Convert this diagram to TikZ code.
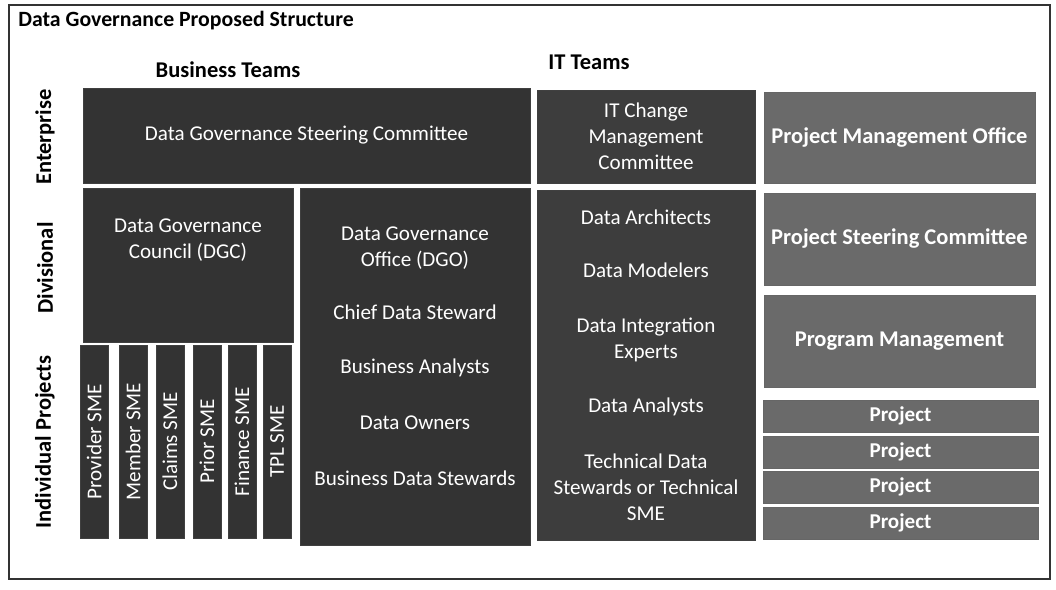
\documentclass[tikz,border=0pt]{standalone}
\usepackage{fontspec}
\setmainfont{Carlito}
\usetikzlibrary{positioning,fit}
\definecolor{bizgray}{HTML}{333333}
\definecolor{itgray}{HTML}{3D3D3D}
\definecolor{pmgray}{HTML}{6A6A6A}
\tikzset{
	bizbox/.style={fill=bizgray, draw=black!75, line width=0.4pt, inner sep=0pt},
	itbox/.style={bizbox, fill=itgray},
	pmbox/.style={bizbox, fill=pmgray, draw=black!60},
	boxtext/.style={text=white, align=center, inner sep=0pt, font=\fontsize{15}{18.5}\selectfont},
	pmtext/.style={boxtext, font=\bfseries\fontsize{16}{18}\selectfont},
	projtext/.style={boxtext, font=\bfseries\fontsize{15}{16}\selectfont},
	heading/.style={font=\bfseries\fontsize{16}{18}\selectfont, inner sep=0pt},
	levellabel/.style={heading, rotate=90}
}

\begin{document}
\begin{tikzpicture}[x=0.025cm, y=-0.025cm]
	\useasboundingbox (0,0) rectangle (1056,590);
	\draw[black!80, line width=0.8pt] (9,5) rectangle (1050,579);

	% titles
	\node[heading, anchor=west, font=\bfseries\fontsize{15.5}{18}\selectfont] (title) at (18,21) {Data Governance Proposed Structure};
	\node[heading] (bizteams) at (228,70) {Business Teams};
	\node[heading] (itteams) at (589,62) {IT Teams};

	% levels
	\node[levellabel] (enterprise) at (45,137) {Enterprise};
	\node[levellabel] (divisional) at (45,268) {Divisional};
	\node[levellabel] (projects) at (45,442) {Individual Projects};

	% business teams
	\node[bizbox, fit={(83,88) (530,183)}] (dgsc) {};
	\node[boxtext] at (dgsc.center) {Data Governance Steering Committee};
	\node[bizbox, fit={(83,188) (293,342)}] (dgc) {};
	\node[boxtext] (dgcname) at (188,240) {Data Governance\\Council (DGC)};
	\node[bizbox, fit={(300,188) (530,545)}] (dgo) {};
	\node[boxtext] (dgoname) at (415,248) {Data Governance\\Office (DGO)};
	\node[boxtext] (cds) at (415,312) {Chief Data Steward};
	\node[boxtext] (ba) at (415,368) {Business Analysts};
	\node[boxtext] (owners) at (415,423) {Data Owners};
	\node[boxtext] (bds) at (415,478) {Business Data Stewards};

	\foreach \x/\lbl [count=\i] in {80/Provider SME, 119/Member SME, 156/Claims SME,
		193/Prior SME, 228/Finance SME, 263/TPL SME} {
		\node[bizbox, fit={(\x,345) (\x+28,538)}] (sme\i) {};
		\node[boxtext, rotate=90] at (sme\i.center) {\lbl};
	}

	% it teams
	\node[itbox, fit={(537,90) (755,183)}] (itcmc) {};
	\node[boxtext] at (itcmc.center) {IT Change\\Management\\Committee};
	\node[itbox, fit={(537,190) (755,540)}] (itstaff) {};
	\node[boxtext] (arch) at (646,217) {Data Architects};
	\node[boxtext] (model) at (646,270) {Data Modelers};
	\node[boxtext] (integ) at (646,340) {Data Integration\\Experts};
	\node[boxtext] (analyst) at (646,407) {Data Analysts};
	\node[boxtext] (techds) at (646,487) {Technical Data\\Stewards or Technical\\SME};

	% project side
	\node[pmbox, fit={(764,92) (1035,183)}] (pmo) {};
	\node[pmtext] at (pmo.center) {Project Management Office};
	\node[pmbox, fit={(764,193) (1035,285)}] (psc) {};
	\node[pmtext] at (psc.center) {Project Steering Committee};
	\node[pmbox, fit={(764,295) (1035,387)}] (progmgmt) {};
	\node[pmtext] at (progmgmt.center) {Program Management};
	\foreach \y [count=\i] in {400,436,471,507} {
		\node[pmbox, fit={(763,\y) (1038,\y+32)}] (proj\i) {};
		\node[projtext] at (proj\i.center) {Project};
	}
\end{tikzpicture}
\end{document}
